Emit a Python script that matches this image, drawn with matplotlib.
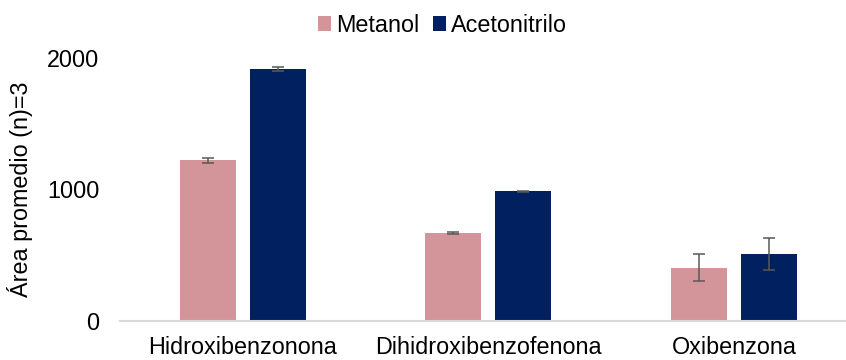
import numpy as np
import matplotlib.pyplot as plt

plt.rcParams['font.family'] = ['Liberation Sans', 'DejaVu Sans']

categories = ['Hidroxibenzonona', 'Dihidroxibenzofenona', 'Oxibenzona']
metanol = [1220, 670, 405]
metanol_err = [22, 10, 103]
acetonitrilo = [1915, 985, 508]
acetonitrilo_err = [15, 5, 120]

fs = 16.8

fig = plt.figure(figsize=(8.46, 3.6), dpi=100)
ax = fig.add_axes([0.1418, 0.1083, 0.857, 0.731])

x = np.arange(len(categories))
w = 0.228
off = 0.1426
err_kw = dict(ecolor='#595959', elinewidth=1.1, capsize=4.3, capthick=1.1)

ax.bar(x - off, metanol, w, yerr=metanol_err, color='#D4959A', label='Metanol', error_kw=err_kw)
ax.bar(x + off, acetonitrilo, w, yerr=acetonitrilo_err, color='#002060', label='Acetonitrilo', error_kw=err_kw)

ax.set_xlim(-0.5, 2.452)
ax.set_ylim(0, 2000)
ax.set_yticks([0, 1000, 2000])
ax.set_xticks(x)
ax.set_xticklabels(categories)
ax.tick_params(length=0, labelsize=fs, colors='black')
ax.tick_params(axis='x', pad=11)
ax.tick_params(axis='y', pad=15)
for s in ['top', 'right', 'left']:
    ax.spines[s].set_visible(False)
ax.spines['bottom'].set_color('#D9D9D9')
ax.spines['bottom'].set_linewidth(1.5)

# y label placed by hand, like the original
ax.set_ylabel('Área promedio (n)=3', fontsize=fs)
ax.yaxis.set_label_coords(-0.12, 0.5)

fig.legend(loc='center', bbox_to_anchor=(0.523, 0.93), ncol=2, frameon=False,
           fontsize=fs, handlelength=0.57, handleheight=0.57, handletextpad=0.22,
           columnspacing=0.57, borderpad=0, borderaxespad=0)

plt.savefig('out.png', dpi=100)
